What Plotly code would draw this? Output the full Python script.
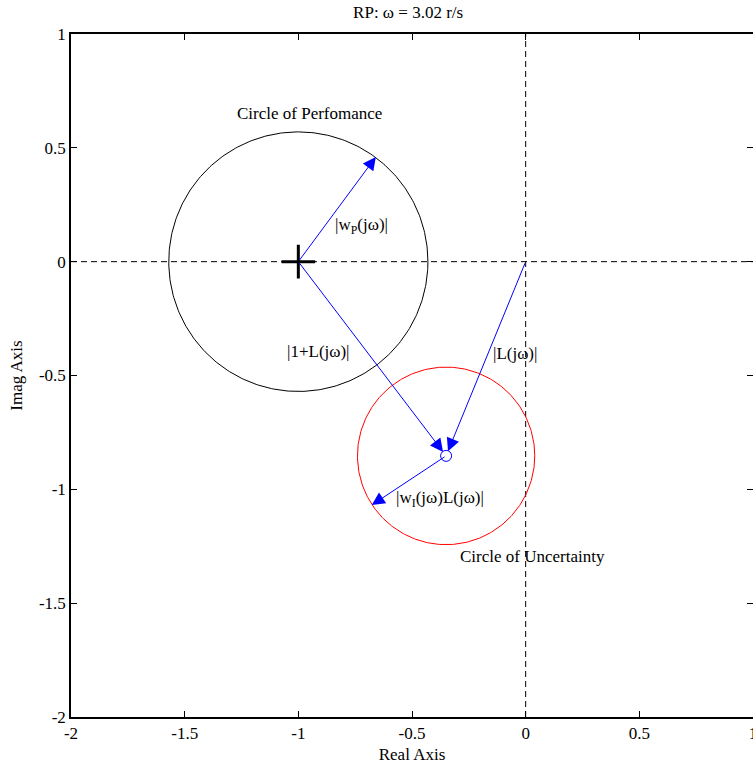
import numpy as np
import plotly.graph_objects as go

# Data
perf_center = (-1.0, 0.0)
perf_radius = 0.57
L_point = (-0.35, -0.853)
unc_radius = 0.39
wP_tip = (-0.659, 0.46)
wI_tip = (-0.677, -1.069)
origin = (0.0, 0.0)
x_ticks = [-2, -1.5, -1, -0.5, 0, 0.5, 1]
y_ticks = [1, 0.5, 0, -0.5, -1, -1.5, -2]
title_text = "RP: ω = 3.02 r/s"

FONT = "Liberation Serif, Times New Roman, serif"
BLUE = "#0000ff"
FS = 17

t = np.linspace(0, 2 * np.pi, 361)
fig = go.Figure()

# dashed axes through origin
fig.add_trace(go.Scatter(x=[-2, 1], y=[0, 0], mode="lines",
                         line=dict(color="black", width=1, dash="6px,4px"), hoverinfo="skip"))
fig.add_trace(go.Scatter(x=[0, 0], y=[-2, 1], mode="lines",
                         line=dict(color="black", width=1, dash="6px,4px"), hoverinfo="skip"))

# circles
fig.add_trace(go.Scatter(x=perf_center[0] + perf_radius * np.cos(t),
                         y=perf_center[1] + perf_radius * np.sin(t),
                         mode="lines", line=dict(color="black", width=1), hoverinfo="skip"))
fig.add_trace(go.Scatter(x=L_point[0] + unc_radius * np.cos(t),
                         y=L_point[1] + unc_radius * np.sin(t),
                         mode="lines", line=dict(color="red", width=1), hoverinfo="skip"))

# centre markers
fig.add_trace(go.Scatter(x=[perf_center[0]], y=[perf_center[1]], mode="markers",
                         marker=dict(symbol="cross-thin", size=24,
                                     line=dict(color="black", width=3)), hoverinfo="skip"))
fig.add_trace(go.Scatter(x=[L_point[0]], y=[L_point[1]], mode="markers",
                         marker=dict(symbol="circle-open", size=11,
                                     color=BLUE, line=dict(color=BLUE, width=1)), hoverinfo="skip"))

# arrows
arrows = [
    (perf_center, wP_tip),
    (perf_center, L_point),
    (origin, L_point),
    (L_point, wI_tip),
]
for (tail, head) in arrows:
    fig.add_annotation(x=head[0], y=head[1], ax=tail[0], ay=tail[1],
                       xref="x", yref="y", axref="x", ayref="y",
                       showarrow=True, arrowhead=2, arrowsize=2.6, arrowwidth=1,
                       arrowcolor=BLUE, standoff=5 if head == L_point else 0, text="")

labels = [
    (-0.949, 0.649, "Circle of Perfomance"),
    (-0.721, 0.157, "|w<sub>P</sub>(jω)|"),
    (-0.910, -0.396, "|1+L(jω)|"),
    (-0.048, -0.405, "|L(jω)|"),
    (-0.378, -1.043, "|w<sub>I</sub>(jω)L(jω)|"),
    (0.031, -1.297, "Circle of Uncertainty"),
]
for x, y, s in labels:
    fig.add_annotation(x=x, y=y, xref="x", yref="y", text=s, showarrow=False,
                       font=dict(family=FONT, size=FS, color="black"),
                       xanchor="center", yanchor="middle")

axis_common = dict(showgrid=False, zeroline=False, showline=True, linecolor="black",
                   linewidth=1.5, mirror="ticks", ticks="inside", ticklen=6,
                   tickcolor="black", ticklabeloverflow="allow", automargin=False,
                   tickfont=dict(family=FONT, size=FS, color="black"))

fig.update_layout(
    width=753, height=770,
    margin=dict(l=71, r=0, t=34, b=53, autoexpand=False),
    paper_bgcolor="white", plot_bgcolor="white",
    showlegend=False,
    title=dict(text=title_text, x=0.542, xanchor="center", y=0.992, yanchor="top",
               font=dict(family=FONT, size=FS, color="black")),
    xaxis=dict(range=[-2, 1], tickvals=x_ticks, ticktext=[str(v) for v in x_ticks],
               title=dict(text="Real Axis", font=dict(family=FONT, size=FS, color="black"), standoff=6),
               **axis_common),
    yaxis=dict(range=[-2, 1], tickvals=y_ticks, ticktext=[str(v) for v in y_ticks],
               title=dict(text="Imag Axis", font=dict(family=FONT, size=FS, color="black"), standoff=12),
               **axis_common),
)

fig.write_html("out.html")
